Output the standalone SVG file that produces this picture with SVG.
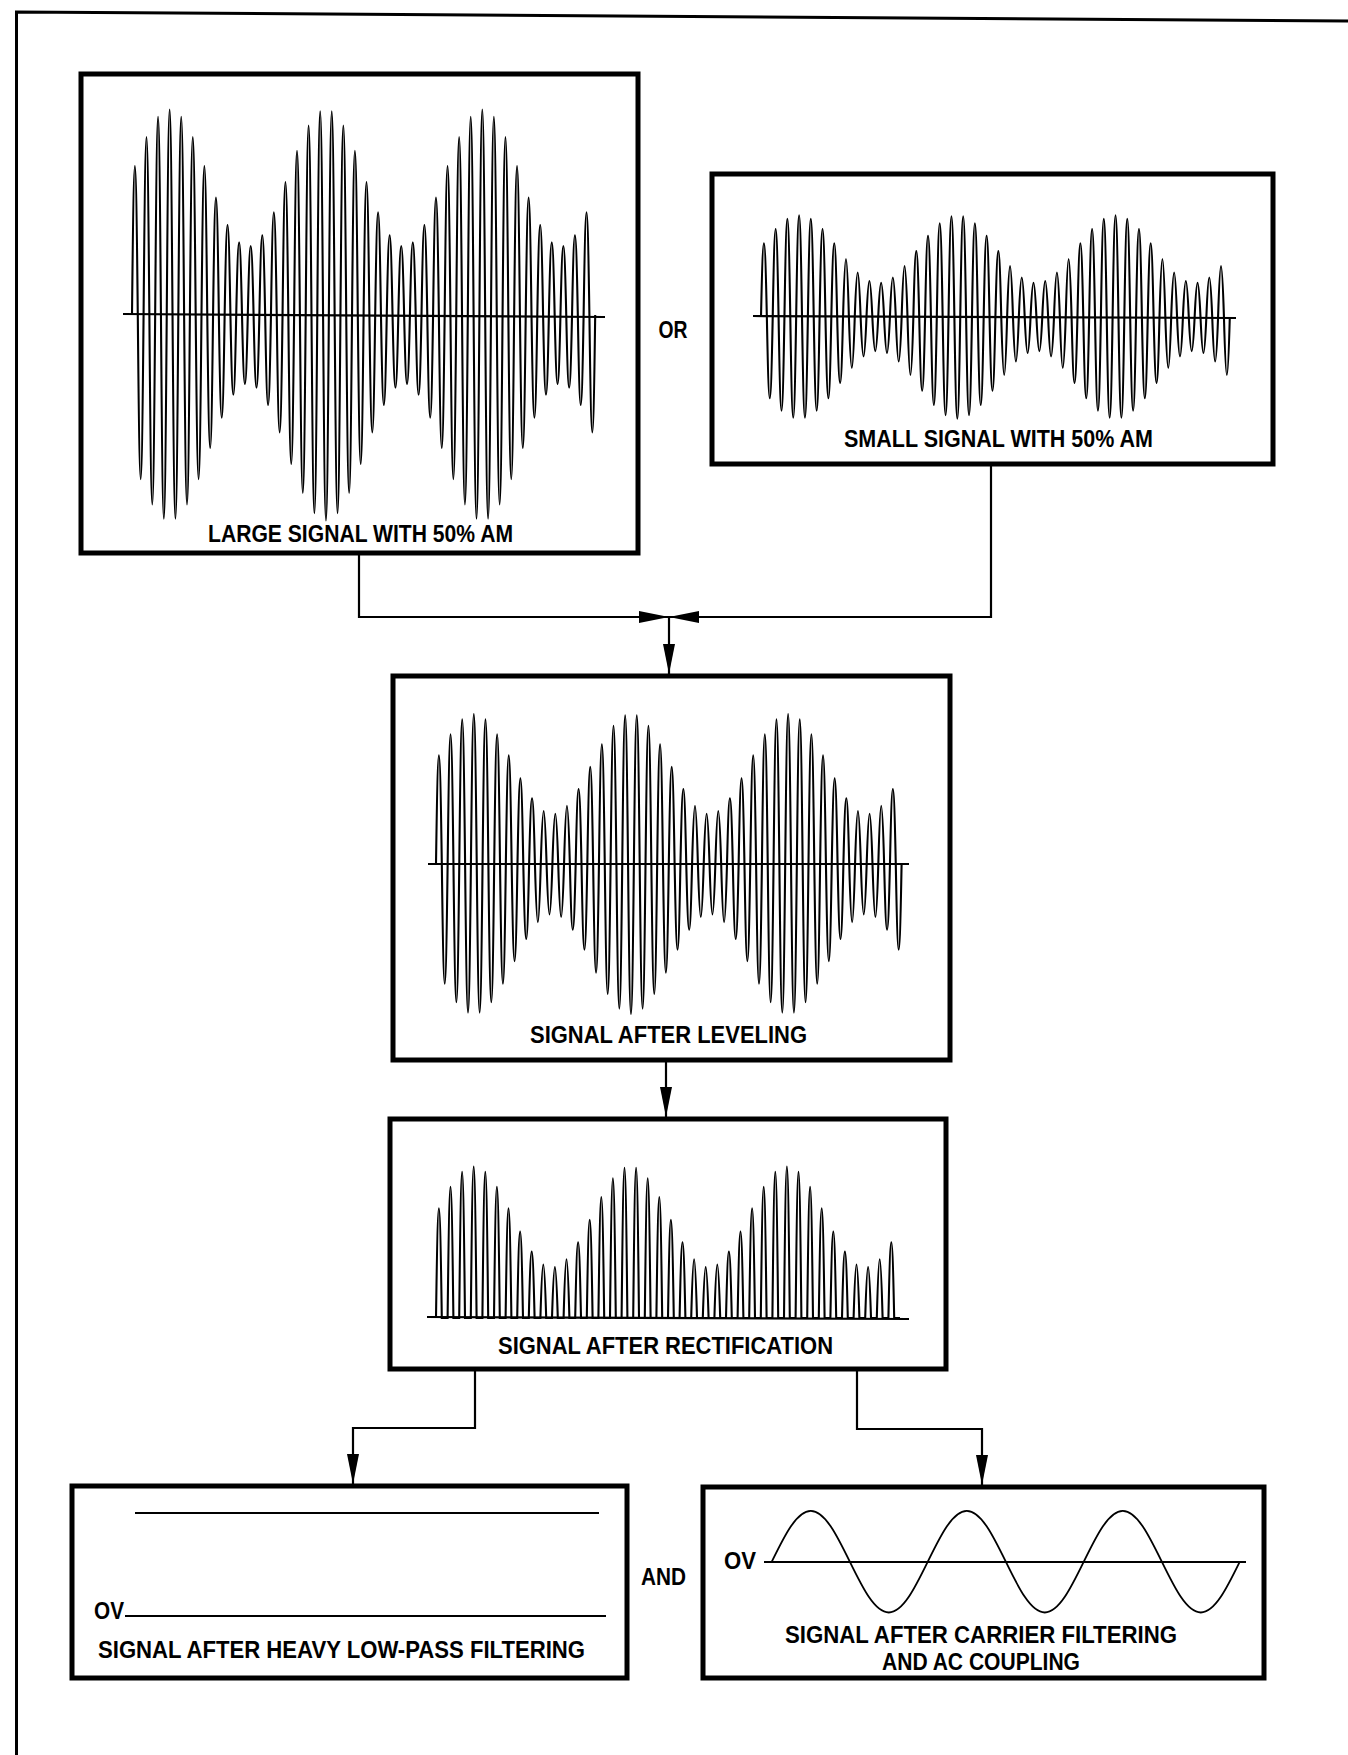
<svg xmlns="http://www.w3.org/2000/svg" width="1348" height="1755" viewBox="0 0 1348 1755">
<style>
.frame{fill:none;stroke:#000;stroke-width:3}
.box{fill:none;stroke:#000;stroke-width:5}
.ax{fill:none;stroke:#000;stroke-width:2.2}
.wave{fill:none;stroke:#000;stroke-width:2.1;vector-effect:non-scaling-stroke}
.sine{fill:none;stroke:#000;stroke-width:1.8}
.conn{fill:none;stroke:#000;stroke-width:2.2}
.lbl{font-family:"Liberation Sans",Arial,sans-serif;font-weight:bold;font-size:24px;fill:#000}
.mid{text-anchor:middle}
</style>
<defs>
<marker id="ah" markerUnits="userSpaceOnUse" markerWidth="30" markerHeight="12" refX="30" refY="6" orient="auto"><path d="M0,0 L30,6 L0,12 Z" fill="#000"/></marker>
<path id="am" class="wave" vector-effect="non-scaling-stroke" d="M0,0c.364,-1.449 .636,-1.449 1,0 .364,1.597 .636,1.597 1,0 .364,-1.731 .636,-1.731 1,0 .364,1.844 .636,1.844 1,0 .364,-1.929 .636,-1.929 1,0 .364,1.982 .636,1.982 1,0 .364,-2 .636,-2 1,0 .364,1.982 .636,1.982 1,0 .364,-1.929 .636,-1.929 1,0 .364,1.844 .636,1.844 1,0 .364,-1.731 .636,-1.731 1,0 .364,1.597 .636,1.597 1,0 .364,-1.449 .636,-1.449 1,0 .364,1.295 .636,1.295 1,0 .364,-1.142 .636,-1.142 1,0 .364,1 .636,1 1,0 .364,-.876 .636,-.876 1,0 .364,.776 .636,.776 1,0 .364,-.707 .636,-.707 1,0 .364,.671 .636,.671 1,0 .364,-.671 .636,-.671 1,0 .364,.707 .636,.707 1,0 .364,-.776 .636,-.776 1,0 .364,.876 .636,.876 1,0 .364,-1 .636,-1 1,0 .364,1.142 .636,1.142 1,0 .364,-1.295 .636,-1.295 1,0 .364,1.449 .636,1.449 1,0 .364,-1.597 .636,-1.597 1,0 .364,1.731 .636,1.731 1,0 .364,-1.844 .636,-1.844 1,0 .364,1.929 .636,1.929 1,0 .364,-1.982 .636,-1.982 1,0 .364,2 .636,2 1,0 .364,-1.982 .636,-1.982 1,0 .364,1.929 .636,1.929 1,0 .364,-1.844 .636,-1.844 1,0 .364,1.731 .636,1.731 1,0 .364,-1.597 .636,-1.597 1,0 .364,1.449 .636,1.449 1,0 .364,-1.295 .636,-1.295 1,0 .364,1.142 .636,1.142 1,0 .364,-1 .636,-1 1,0 .364,.876 .636,.876 1,0 .364,-.776 .636,-.776 1,0 .364,.707 .636,.707 1,0 .364,-.671 .636,-.671 1,0 .364,.671 .636,.671 1,0 .364,-.707 .636,-.707 1,0 .364,.776 .636,.776 1,0 .364,-.876 .636,-.876 1,0 .364,1 .636,1 1,0 .364,-1.142 .636,-1.142 1,0 .364,1.295 .636,1.295 1,0 .364,-1.449 .636,-1.449 1,0 .364,1.597 .636,1.597 1,0 .364,-1.731 .636,-1.731 1,0 .364,1.844 .636,1.844 1,0 .364,-1.929 .636,-1.929 1,0 .364,1.982 .636,1.982 1,0 .364,-2 .636,-2 1,0 .364,1.982 .636,1.982 1,0 .364,-1.929 .636,-1.929 1,0 .364,1.844 .636,1.844 1,0 .364,-1.731 .636,-1.731 1,0 .364,1.597 .636,1.597 1,0 .364,-1.449 .636,-1.449 1,0 .364,1.295 .636,1.295 1,0 .364,-1.142 .636,-1.142 1,0 .364,1 .636,1 1,0 .364,-.876 .636,-.876 1,0 .364,.776 .636,.776 1,0 .364,-.707 .636,-.707 1,0 .364,.671 .636,.671 1,0 .364,-.671 .636,-.671 1,0 .364,.707 .636,.707 1,0 .364,-.776 .636,-.776 1,0 .364,.876 .636,.876 1,0 .364,-1 .636,-1 1,0 .364,1.142 .636,1.142 1,0"/>
<path id="rect" class="wave" vector-effect="non-scaling-stroke" d="M0,0c.364,-1.449 .636,-1.449 1,0h1c.364,-1.731 .636,-1.731 1,0h1c.364,-1.929 .636,-1.929 1,0h1c.364,-2 .636,-2 1,0h1c.364,-1.929 .636,-1.929 1,0h1c.364,-1.731 .636,-1.731 1,0h1c.364,-1.449 .636,-1.449 1,0h1c.364,-1.142 .636,-1.142 1,0h1c.364,-.876 .636,-.876 1,0h1c.364,-.707 .636,-.707 1,0h1c.364,-.671 .636,-.671 1,0h1c.364,-.776 .636,-.776 1,0h1c.364,-1 .636,-1 1,0h1c.364,-1.295 .636,-1.295 1,0h1c.364,-1.597 .636,-1.597 1,0h1c.364,-1.844 .636,-1.844 1,0h1c.364,-1.982 .636,-1.982 1,0h1c.364,-1.982 .636,-1.982 1,0h1c.364,-1.844 .636,-1.844 1,0h1c.364,-1.597 .636,-1.597 1,0h1c.364,-1.295 .636,-1.295 1,0h1c.364,-1 .636,-1 1,0h1c.364,-.776 .636,-.776 1,0h1c.364,-.671 .636,-.671 1,0h1c.364,-.707 .636,-.707 1,0h1c.364,-.876 .636,-.876 1,0h1c.364,-1.142 .636,-1.142 1,0h1c.364,-1.449 .636,-1.449 1,0h1c.364,-1.731 .636,-1.731 1,0h1c.364,-1.929 .636,-1.929 1,0h1c.364,-2 .636,-2 1,0h1c.364,-1.929 .636,-1.929 1,0h1c.364,-1.731 .636,-1.731 1,0h1c.364,-1.449 .636,-1.449 1,0h1c.364,-1.142 .636,-1.142 1,0h1c.364,-.876 .636,-.876 1,0h1c.364,-.707 .636,-.707 1,0h1c.364,-.671 .636,-.671 1,0h1c.364,-.776 .636,-.776 1,0h1c.364,-1 .636,-1 1,0h1"/>
</defs>

<path class="frame" d="M16.5,1755 V12 L1348,21"/>

<g id="connectors">
<path class="conn" d="M359,554 V617 H669" marker-end="url(#ah)"/>
<path class="conn" d="M991,464 V617 H669" marker-end="url(#ah)"/>
<path class="conn" d="M669,617 V674" marker-end="url(#ah)"/>
<path class="conn" d="M666,1060 V1117" marker-end="url(#ah)"/>
<path class="conn" d="M475,1369 V1428 H353 V1484" marker-end="url(#ah)"/>
<path class="conn" d="M857,1369 V1429 H982 V1485" marker-end="url(#ah)"/>
</g>

<g id="large-signal">
<rect class="box" x="81" y="74" width="557" height="479"/>
<path class="ax" d="M123,314 L605,317"/>
<use href="#am" transform="translate(132,315) scale(5.79,137)"/>
<text class="lbl mid" x="360.5" y="542" textLength="305" lengthAdjust="spacingAndGlyphs">LARGE SIGNAL WITH 50% AM</text>
</g>

<g id="or-label">
<text class="lbl mid" x="673" y="338" textLength="29" lengthAdjust="spacingAndGlyphs">OR</text>
</g>

<g id="small-signal">
<rect class="box" x="712" y="174" width="561" height="290"/>
<path class="ax" d="M753,316 L1236,318"/>
<use href="#am" transform="translate(761,317) scale(5.86,67.8)"/>
<text class="lbl mid" x="998.5" y="447" textLength="309" lengthAdjust="spacingAndGlyphs">SMALL SIGNAL WITH 50% AM</text>
</g>

<g id="leveling">
<rect class="box" x="393" y="676" width="557" height="384"/>
<path class="ax" d="M428,864 H909"/>
<use href="#am" transform="translate(436,864) scale(5.82,100)"/>
<text class="lbl mid" x="668.5" y="1043" textLength="277" lengthAdjust="spacingAndGlyphs">SIGNAL AFTER LEVELING</text>
</g>

<g id="rectification">
<rect class="box" x="390" y="1119" width="556" height="250"/>
<use href="#rect" transform="translate(436,1318) scale(5.8,101)"/>
<path class="ax" d="M427,1317 L909,1319"/>
<text class="lbl mid" x="665.5" y="1354" textLength="335" lengthAdjust="spacingAndGlyphs">SIGNAL AFTER RECTIFICATION</text>
</g>

<g id="lowpass">
<rect class="box" x="72" y="1486" width="555" height="192"/>
<path class="ax" d="M135,1513 H599 M125,1616 H606"/>
<text class="lbl" x="94" y="1619" textLength="30" lengthAdjust="spacingAndGlyphs">OV</text>
<text class="lbl mid" x="341.5" y="1658" textLength="487" lengthAdjust="spacingAndGlyphs">SIGNAL AFTER HEAVY LOW-PASS FILTERING</text>
</g>

<g id="and-label">
<text class="lbl mid" x="663.5" y="1585" textLength="45" lengthAdjust="spacingAndGlyphs">AND</text>
</g>

<g id="carrier-filtering">
<rect class="box" x="703" y="1487" width="561" height="191"/>
<path class="ax" d="M764,1562 H1246"/>
<path class="sine" d="M771.8,1561.7 c12.72,-26.02 24.89,-50.8 39,-50.8 s26.28,24.78 39,50.8 s24.89,50.8 39,50.8 s26.28,-24.78 39,-50.8 s24.89,-50.8 39,-50.8 s26.28,24.78 39,50.8 s24.89,50.8 39,50.8 s26.28,-24.78 39,-50.8 s24.89,-50.8 39,-50.8 s26.28,24.78 39,50.8 s24.89,50.8 39,50.8 s26.28,-24.78 39,-50.8"/>
<text class="lbl" x="724" y="1569" textLength="32" lengthAdjust="spacingAndGlyphs">OV</text>
<text class="lbl mid" x="981" y="1643" textLength="392" lengthAdjust="spacingAndGlyphs">SIGNAL AFTER CARRIER FILTERING</text>
<text class="lbl mid" x="981" y="1670" textLength="198" lengthAdjust="spacingAndGlyphs">AND AC COUPLING</text>
</g>
</svg>
